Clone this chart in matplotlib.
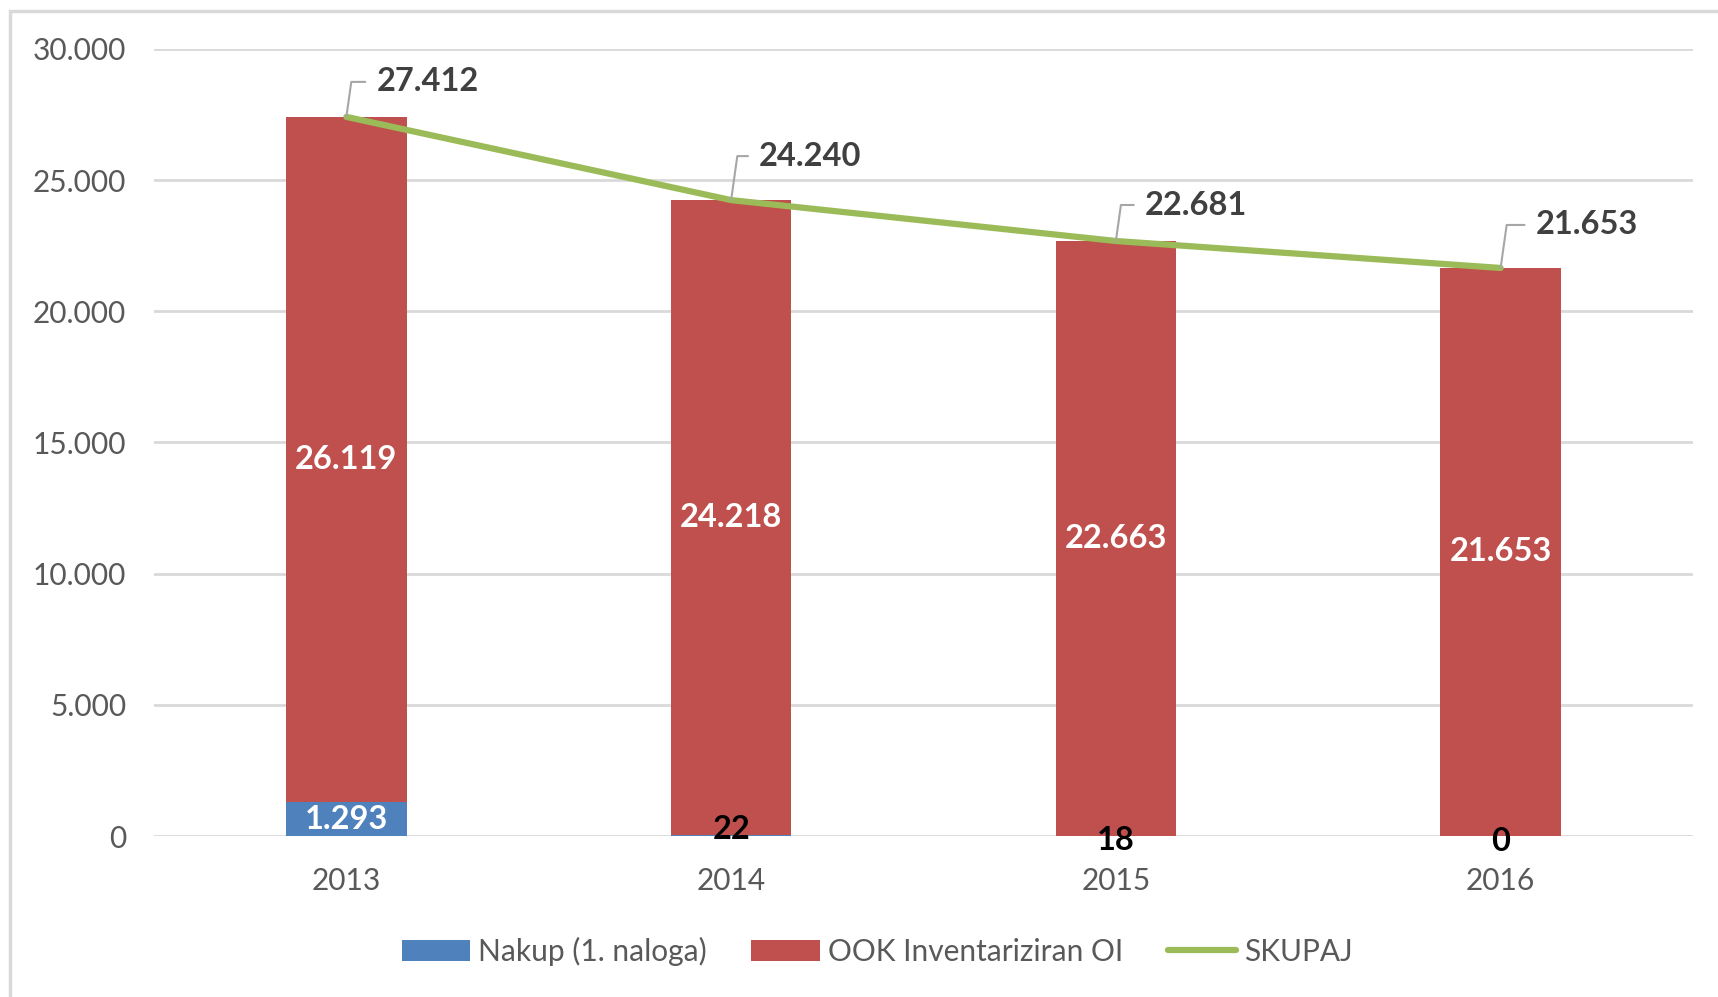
import numpy as np
import matplotlib
matplotlib.use('Agg')
import matplotlib.pyplot as plt
from matplotlib.patches import Rectangle

years = ['2013', '2014', '2015', '2016']
nakup = [1293, 22, 18, 0]
ook = [26119, 24218, 22663, 21653]
skupaj = [27412, 24240, 22681, 21653]

plt.rcParams['font.family'] = ['Lato', 'DejaVu Sans']

BLUE = '#4F81BD'
RED = '#C0504D'
GREEN = '#9BBB59'
GRAY = '#595959'

fig = plt.figure(figsize=(17.18, 9.97), dpi=100)
ax = fig.add_axes([154 / 1718, 1 - 836 / 997, (1693 - 154) / 1718, (836 - 49) / 997])

x = np.arange(len(years))
w = 0.313
b1 = ax.bar(x, nakup, w, color=BLUE, label='Nakup (1. naloga)', zorder=2)
b2 = ax.bar(x, ook, w, bottom=nakup, color=RED, label='OOK Inventariziran OI', zorder=2)
l1, = ax.plot(x, skupaj, color=GREEN, lw=4.5, label='SKUPAJ', zorder=3, solid_capstyle='round')

def fmt(v):
    return f'{v:,}'.replace(',', '.')

# labels inside bars
for i in range(len(years)):
    ax.text(x[i], nakup[i] + ook[i] / 2, fmt(ook[i]), ha='center', va='center',
            color='white', fontsize=23.5, fontweight='bold', zorder=4)
    if nakup[i] > 1000:
        ax.text(x[i], nakup[i] / 2, fmt(nakup[i]), ha='center', va='center',
                color='white', fontsize=23.5, fontweight='bold', zorder=4)
    else:
        dy = 6 if nakup[i] > 20 else -5
        ax.annotate(fmt(nakup[i]), (x[i], nakup[i] / 2), xytext=(0, dy),
                    textcoords='offset pixels', ha='center', va='center',
                    color='black', fontsize=23.5, fontweight='bold', zorder=4)

# callout labels for total line
offsets = [(30, 35), (28, 44), (29, 36), (35, 43)]
for i in range(len(years)):
    ax.annotate(fmt(skupaj[i]), (x[i], skupaj[i]), xytext=offsets[i],
                textcoords='offset pixels', ha='left', va='center',
                color='#404040', fontsize=23.5, fontweight='bold', zorder=5,
                arrowprops=dict(arrowstyle='-', color='#A6A6A6', lw=1.5,
                                shrinkA=6, shrinkB=0, relpos=(0, 0.5),
                                connectionstyle='angle,angleA=0,angleB=82,rad=0'))

ax.set_xlim(-0.5, 3.5)
ax.set_ylim(0, 30000)
ax.set_yticks(np.arange(0, 30001, 5000))
ax.set_yticklabels([fmt(v) for v in range(0, 30001, 5000)])
ax.set_xticks(x)
ax.set_xticklabels(years)
ax.tick_params(length=0, labelsize=21.5, colors=GRAY)
ax.tick_params(axis='y', pad=20)
ax.tick_params(axis='x', pad=22)
ax.grid(axis='y', color='#D9D9D9', lw=2, zorder=0)
for s in ax.spines.values():
    s.set_visible(False)

leg = fig.legend([b1, b2, l1], ['Nakup (1. naloga)', 'OOK Inventariziran OI', 'SKUPAJ'],
                 loc='center', bbox_to_anchor=(877 / 1718, 1 - 951 / 997), ncol=3,
                 frameon=False, fontsize=21.5, handlelength=2.3, handleheight=0.7,
                 handletextpad=0.25, columnspacing=1.5, labelcolor=GRAY)

fig.patches.append(Rectangle((10 / 1718, -0.1), 1.2, 1 - 11 / 997 + 0.1,
                             transform=fig.transFigure, fill=False,
                             edgecolor='#D9D9D9', lw=2.5))

fig.savefig('out.png', dpi=100)
